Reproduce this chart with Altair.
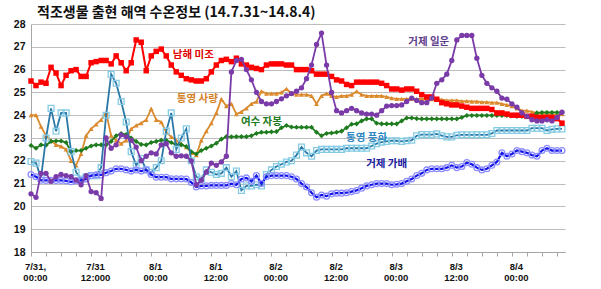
import altair as alt
import pandas as pd

hours = list(range(107))

nammi = [25.5, 25.3, 25.45, 25.4, 26.1, 25.85, 25.3, 25.75, 25.95, 26.0,
         25.7, 25.7, 26.3, 26.35, 26.4, 26.4, 26.25, 26.6, 26.3, 25.95,
         26.3, 27.3, 27.2, 25.95, 26.6, 26.8, 26.9, 26.6, 26.2, 25.9,
         25.75, 25.6, 25.55, 25.5, 25.5, 25.6, 25.9, 26.2, 26.4, 26.45,
         26.35, 26.5, 26.25, 26.2, 26.1, 26.05, 26.0, 26.2, 26.25, 26.25,
         26.25, 26.2, 26.2, 26.0, 26.0, 26.0, 25.95, 25.8, 25.8, 25.8,
         25.7, 25.55, 25.5, 25.35, 25.3, 25.45, 25.45, 25.45, 25.45, 25.45,
         25.4, 25.3, 25.15, 25.15, 25.1, 25.15, 25.15, 25.05, 24.9, 24.8,
         24.8, 24.7, 24.55, 24.5, 24.45, 24.45, 24.4, 24.35, 24.3, 24.3,
         24.3, 24.3, 24.25, 24.1, 24.1, 24.05, 24.0, 24.0, 24.0, 23.95,
         23.95, 23.9, 23.9, 23.9, 23.9, 23.85, 23.65]

saryang = [24.0, 24.0, 23.5, 23.1, 22.9, 22.7, 22.63, 22.5, 22.0, 21.8,
           22.3, 23.1, 23.4, 23.6, 23.8, 24.1, 23.1, 22.9, 22.75, 22.9,
           23.4, 23.55, 23.65, 23.8, 24.28, 23.8, 23.7, 23.25, 23.05, 22.9,
           22.75, 22.6, 22.35, 22.25, 22.9, 23.3, 23.65, 24.1, 24.7, 24.4,
           24.5, 24.05, 24.15, 24.3, 24.5, 24.6, 25.05, 24.95, 24.95, 24.95,
           25.0, 25.15, 24.95, 24.9, 24.9, 24.9, 24.85, 24.5, 24.85, 24.95,
           24.85, 24.8, 24.85, 24.85, 24.9, 25.05, 24.9, 24.85, 24.85, 24.85,
           24.85, 24.8, 24.75, 24.72, 24.72, 24.72, 24.72, 24.7, 24.72, 24.7,
           24.7, 24.7, 24.68, 24.65, 24.65, 24.65, 24.62, 24.62, 24.6, 24.6,
           24.57, 24.57, 24.55, 24.55, 24.5, 24.45, 24.4, 24.3, 24.2, 24.2,
           24.15, 24.1, 24.05, 24.05, 24.05, 24.0, 24.05]

jabong = [22.67, 22.55, 22.7, 22.68, 22.85, 22.87, 22.87, 22.8, 22.4, 22.45,
          22.45, 22.55, 22.65, 22.7, 22.7, 22.7, 22.85, 23.1, 23.2, 23.15,
          23.0, 22.85, 22.72, 22.7, 22.8, 22.85, 22.9, 22.9, 22.8, 22.7,
          22.7, 22.63, 22.4, 22.3, 22.45, 22.55, 22.65, 22.77, 22.95, 23.06,
          23.05, 23.06, 23.06, 23.06, 23.1, 23.2, 23.25, 23.25, 23.27, 23.28,
          23.45, 23.55, 23.48, 23.47, 23.47, 23.47, 23.47, 23.25, 23.1, 23.2,
          23.22, 23.25, 23.3, 23.45, 23.6, 23.62, 23.75, 23.84, 23.84, 23.65,
          23.62, 23.62, 23.62, 23.62, 23.75, 23.88, 23.88, 23.85, 23.84, 23.84,
          23.84, 23.84, 23.84, 23.84, 23.84, 23.84, 23.9, 23.99, 23.99, 23.99,
          23.99, 23.99, 23.99, 23.99, 23.99, 23.99, 23.99, 23.95, 23.95, 23.95,
          23.95, 24.1, 24.12, 24.12, 24.12, 24.12, 24.12]

punghwa = [21.97, 21.9, 21.25, 23.0, 24.3, 23.3, 24.1, 24.1, 22.4, 21.5,
           21.2, 21.3, 21.35, 21.35, 21.7, 24.0, 25.8, 25.4, 24.6, 23.7,
           22.4, 21.8, 22.1, 21.6, 21.5, 21.7, 22.0, 23.3, 24.1, 22.5,
           23.0, 23.4, 22.0, 21.3, 21.2, 21.6, 21.5, 21.4, 21.45, 21.7,
           21.3, 21.55, 20.7, 20.9, 20.9, 20.95, 20.9, 21.4, 21.6, 21.75,
           21.85, 21.95, 22.0, 22.25, 22.6, 22.35, 22.2, 22.45, 22.5, 22.5,
           22.5, 22.5, 22.5, 22.55, 22.55, 22.55, 22.55, 22.55, 22.65, 22.75,
           22.82, 22.85, 22.88, 22.88, 22.85, 22.88, 22.9, 23.1, 23.15, 23.15,
           23.15, 23.18, 23.1, 23.05, 23.05, 23.12, 23.14, 23.14, 23.14, 23.14,
           23.14, 23.14, 23.2, 23.33, 23.33, 23.33, 23.33, 23.33, 23.33, 23.33,
           23.43, 23.43, 23.43, 23.33, 23.38, 23.4, 23.4]

ilun = [20.55, 20.4, 21.45, 21.45, 21.1, 21.3, 21.4, 21.35, 21.3, 21.15,
        20.95, 21.35, 20.65, 20.6, 20.35, 23.0, 22.55, 22.7, 23.14, 23.05,
        22.9, 22.6, 22.0, 22.2, 22.35, 22.3, 22.7, 22.75, 22.35, 22.2,
        22.22, 22.2, 22.0, 20.95, 21.15, 21.5, 21.9, 21.8, 21.95, 22.2,
        25.9, 26.4, 26.45, 26.0, 25.55, 25.0, 24.6, 24.5, 24.5, 24.6,
        24.72, 24.85, 24.95, 25.05, 25.2, 25.6, 26.2, 27.1, 27.6, 26.2,
        25.0, 24.2, 24.1, 24.2, 24.3, 24.2, 24.1, 24.05, 24.05, 24.0,
        24.2, 24.4, 24.42, 24.42, 24.45, 24.6, 24.75, 24.65, 24.55, 24.55,
        24.75, 25.4, 25.55, 25.8, 26.4, 27.3, 27.5, 27.5, 27.5, 26.5,
        25.75, 25.4, 25.2, 25.05, 24.75, 24.7, 24.5, 24.35, 24.1, 23.95,
        23.8, 23.75, 23.75, 23.8, 23.75, 23.9, 24.13]

gabae = [21.4, 21.3, 21.15, 21.14, 21.14, 21.14, 21.14, 21.12, 21.08, 21.12,
         21.14, 21.2, 21.35, 21.38, 21.38, 21.48, 21.55, 21.65, 21.65, 21.6,
         21.55, 21.6, 21.55, 21.6, 21.4, 21.28, 21.28, 21.28, 21.21, 21.21,
         21.21, 21.2, 21.05, 20.85, 20.9, 20.9, 20.92, 20.92, 20.92, 20.92,
         21.0, 20.95, 21.2, 21.25, 21.1, 21.35, 21.0, 21.3, 21.35, 21.35,
         21.35, 21.35, 21.3, 21.2, 21.0, 20.85, 20.6, 20.4, 20.5, 20.45,
         20.55, 20.58, 20.58, 20.6, 20.65, 20.7, 20.8, 20.9, 20.95, 21.0,
         21.0, 21.0, 20.95, 20.97, 21.0, 21.1, 21.2, 21.35, 21.45, 21.6,
         21.65, 21.65, 21.65, 21.7, 21.8, 21.7, 21.75, 21.92, 21.85, 21.7,
         21.6, 21.65, 21.8, 21.95, 22.35, 22.2, 22.3, 22.45, 22.4, 22.35,
         22.25, 22.2, 22.45, 22.55, 22.45, 22.45, 22.45]

tick_labels = [["7/31,", "00:00"], ["7/31", "12:000"], ["8/1", "00:00"], ["8/1", "12:00"],
               ["8/2", "00:00"], ["8/2", "12:00"], ["8/3", "00:00"], ["8/3", "12:00"],
               ["8/4", "00:00"]]

title_text = "적조생물 출현 해역 수온정보 (14.7.31~14.8.4)"

series_names = ["남해 미조", "통영 사량", "여수 자봉", "통영 풍화", "거제 일운", "거제 가배"]
label_hours = [32.4, 33.2, 46.0, 67.0, 79.4, 71.0]
label_temps = [26.62, 24.73, 23.68, 22.98, 27.19, 21.88]
label_colors = ["#E00000", "#D4812A", "#1E7B1E", "#2E86C1", "#5E3C8C", "#2020A0"]

# ---- axes ----
label_arr = "[" + ",".join("['%s','%s']" % (a, b) for a, b in tick_labels) + "]"
xscale = alt.Scale(domain=[0, 106.6], nice=False, zero=False)
xaxis = alt.Axis(
    values=list(range(0, 106, 3)),
    labelExpr="datum.value % 12 == 0 ? " + label_arr + "[datum.value / 12] : ''",
    title=None, grid=False, tickSize=4, tickColor="#A6A6A6",
    domainColor="#A6A6A6", labelOverlap=False, labelFlush=False, labelBound=False,
    labelFont="Liberation Sans", labelFontSize=9.5, labelFontWeight="bold",
    labelColor="#111111", labelOffset=4, labelPadding=5, labelLineHeight=11,
)
yscale = alt.Scale(domain=[18, 28], nice=False, zero=False)
yaxis = alt.Axis(
    values=list(range(18, 29)), title=None, grid=True, gridColor="#BDBDBD",
    ticks=False, domainColor="#A6A6A6", labelFont="Liberation Sans",
    labelFontSize=10.5, labelFontWeight="bold", labelColor="#111111", labelPadding=6,
)

X = alt.X("hour:Q", scale=xscale, axis=xaxis)
Y = alt.Y("temp:Q", scale=yscale, axis=yaxis)


def series(vals, line_color, shape, size, filled, mcolor, width=1.8):
    df = pd.DataFrame({"hour": hours, "temp": vals})
    base = alt.Chart(df)
    line = base.mark_line(color=line_color, strokeWidth=width).encode(x=X, y=Y)
    if filled:
        pts = base.mark_point(shape=shape, filled=True, color=mcolor, size=size, opacity=1).encode(x=X, y=Y)
    else:
        pts = base.mark_point(shape=shape, filled=False, stroke=mcolor, strokeWidth=1.3,
                              size=size, opacity=1).encode(x=X, y=Y)
    return [line, pts]


layers = []
layers += series(saryang, "#DB8A2E", "triangle-up", 24, True, "#DB8A2E")
layers += series(jabong, "#1E7B1E", "diamond", 26, True, "#1E7B1E")
layers += series(punghwa, "#2A78A8", "square", 34, False, "#86CCE4")
layers += series(gabae, "#1010E8", "circle", 34, False, "#8C8CFF", width=2.2)
layers += series(nammi, "#FF0000", "square", 30, True, "#FF0000", width=2)
layers += series(ilun, "#7A3AA8", "circle", 28, True, "#7A3AA8")

lab_df = pd.DataFrame({"name": series_names, "hour": label_hours, "temp": label_temps,
                       "color": label_colors})
labels = alt.Chart(lab_df).mark_text(
    font="Noto Sans CJK KR", fontSize=10.5, fontWeight="bold"
).encode(x=X, y=Y, text="name:N", color=alt.Color("color:N", scale=None))

title = alt.Chart(pd.DataFrame({"t": [title_text]})).mark_text(
    font="Noto Sans CJK KR", fontSize=14, fontWeight="bold", align="left",
    baseline="middle", color="#111111"
).encode(text="t:N", x=alt.value(6), y=alt.value(-11))

chart = alt.layer(*layers, labels, title).properties(
    width=534, height=228,
    autosize=alt.AutoSizeParams(type="none"),
    padding={"left": 31, "top": 24, "right": 36, "bottom": 37},
    background="white",
).configure_view(strokeWidth=0)

chart.save("out.html", embed_options={"renderer": "svg", "actions": False})
